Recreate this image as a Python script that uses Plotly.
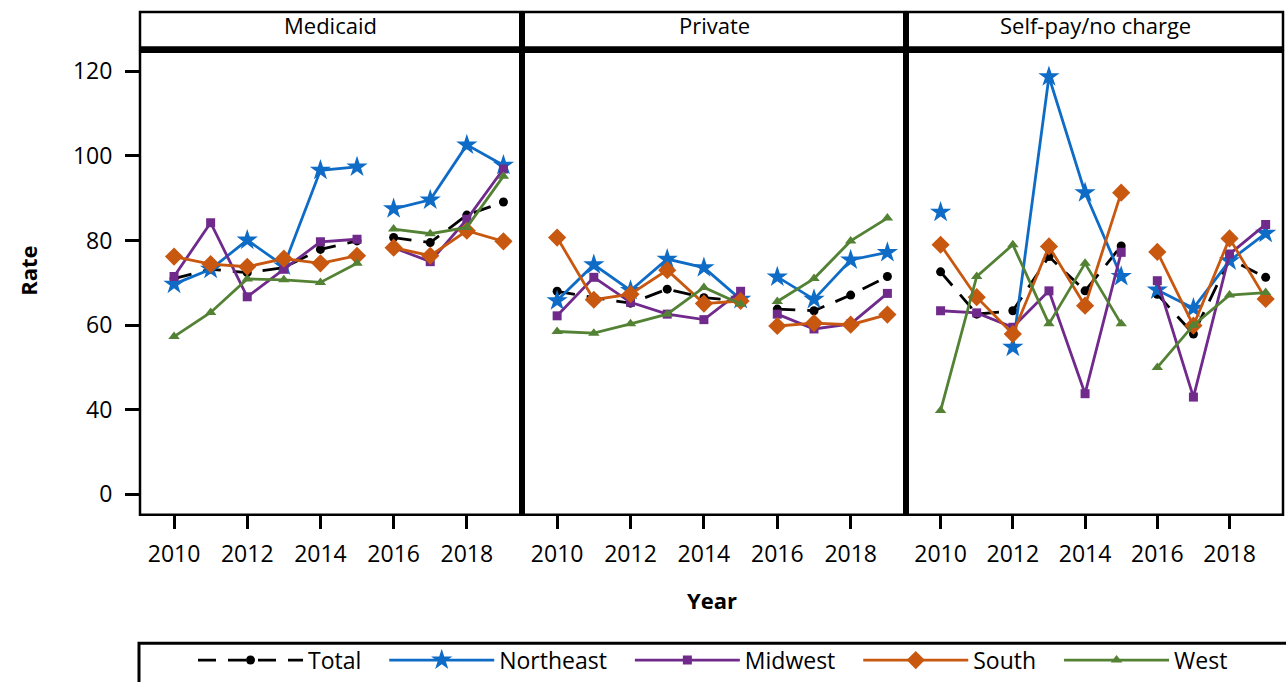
import plotly.graph_objects as go

W, H = 1286, 682

years = [2010, 2011, 2012, 2013, 2014, 2015, 2016, 2017, 2018, 2019]
payers = ["Medicaid", "Private", "Self-pay/no charge"]
regions = ["Total", "Northeast", "Midwest", "South", "West"]

# rates by payer and region
medicaid_total = [71.0, 73.2, 72.4, 73.6, 77.9, 79.9, 80.7, 79.5, 86.0, 89.1]
medicaid_northeast = [69.7, 73.2, 80.1, 74.0, 96.6, 97.4, 87.5, 89.6, 102.6, 97.8]
medicaid_midwest = [71.5, 84.2, 66.7, 73.2, 79.7, 80.3, 78.3, 75.0, 85.0, 96.9]
medicaid_south = [76.2, 74.4, 73.8, 75.7, 74.6, 76.4, 78.3, 76.4, 82.3, 79.8]
medicaid_west = [57.3, 63.0, 70.9, 70.7, 70.1, 74.6, 82.7, 81.6, 83.1, 95.2]

private_total = [68.0, 66.5, 65.2, 68.5, 66.5, 65.7, 63.8, 63.4, 67.1, 71.5]
private_northeast = [65.8, 74.3, 68.2, 75.6, 73.6, 66.1, 71.4, 66.1, 75.4, 77.2]
private_midwest = [62.2, 71.3, 65.4, 62.6, 61.3, 68.0, 62.6, 59.1, 60.3, 67.5]
private_south = [80.7, 66.0, 67.3, 73.0, 65.1, 65.7, 59.8, 60.5, 60.1, 62.5]
private_west = [58.5, 58.1, 60.3, 62.6, 68.9, 65.0, 65.6, 71.0, 79.9, 85.3]

selfpay_total = [72.6, 62.6, 63.4, 76.2, 68.1, 78.7, 67.3, 57.9, 75.6, 71.3]
selfpay_northeast = [86.7, None, 54.8, 118.7, 91.3, 71.5, 68.3, 64.0, 75.2, 81.7]
selfpay_midwest = [63.4, 62.9, 59.5, 68.1, 43.8, 77.2, 70.5, 43.0, 76.8, 83.8]
selfpay_south = [79.0, 66.6, 57.9, 78.6, 64.6, 91.3, 77.3, 59.9, 80.5, 66.2]
selfpay_west = [39.8, 71.5, 79.0, 60.3, 74.6, 60.3, 50.0, 60.0, 67.1, 67.7]

data = {
    "Medicaid": [medicaid_total, medicaid_northeast, medicaid_midwest, medicaid_south, medicaid_west],
    "Private": [private_total, private_northeast, private_midwest, private_south, private_west],
    "Self-pay/no charge": [selfpay_total, selfpay_northeast, selfpay_midwest, selfpay_south, selfpay_west],
}

# y axis has a break: label "0" sits one step below 40
ytick_vals = [20, 40, 60, 80, 100, 120]
ytick_text = ["0", "40", "60", "80", "100", "120"]

styles = {
    "Total": dict(color="black", symbol="circle", size=9, dash="18px,12px"),
    "Northeast": dict(color="#0F6CC6", symbol="star", size=16, dash="solid"),
    "Midwest": dict(color="#702A8C", symbol="square", size=9, dash="solid"),
    "South": dict(color="#C8570F", symbol="diamond", size=14, dash="solid"),
    "West": dict(color="#548235", symbol="triangle-up", size=10, dash="solid"),
}

FONT = "Open Sans, Noto Sans, sans-serif"

panel_px = [(140, 521), (523, 905), (907, 1283)]
top_px, bot_px = 52, 517


def px_x(p):
    return p / W


def px_y(p):
    return 1 - p / H


fig = go.Figure()

for i, payer in enumerate(payers):
    ax = "" if i == 0 else str(i + 1)
    for region, vals in zip(regions, data[payer]):
        st = styles[region]
        # break the line between 2015 and 2016
        xs = years[:6] + [2015.5] + years[6:]
        ys = vals[:6] + [None] + vals[6:]
        fig.add_trace(go.Scatter(
            x=xs, y=ys,
            mode="lines+markers",
            name=region + "\u00a0" * 3,
            legendgroup=region,
            showlegend=(i == 0),
            line=dict(color=st["color"], width=2.8, dash=st["dash"]),
            marker=dict(symbol=st["symbol"], size=st["size"], color=st["color"]),
            xaxis="x" + ax, yaxis="y" + ax,
        ))

    x0, x1 = panel_px[i]
    fig.update_layout(**{
        "xaxis" + ax: dict(
            domain=[px_x(x0), px_x(x1)],
            range=[2009.07, 2019.48],
            tickvals=[2010, 2012, 2014, 2016, 2018],
            ticks="outside", ticklen=13, tickwidth=3, tickcolor="black",
            ticklabelstandoff=6,
            showline=False, showgrid=False, zeroline=False,
            tickfont=dict(size=23, color="black", family=FONT),
            anchor="y" + ax,
        ),
        "yaxis" + ax: dict(
            domain=[px_y(bot_px), px_y(top_px)],
            range=[15.2, 124.6],
            tickvals=ytick_vals, ticktext=ytick_text,
            ticks="outside" if i == 0 else "", ticklen=14, tickwidth=3,
            tickcolor="black",
            ticklabelstandoff=8,
            showticklabels=(i == 0),
            showline=False, showgrid=False, zeroline=False,
            tickfont=dict(size=23, color="black", family=FONT),
            anchor="x" + ax,
        ),
    })

shapes = []
# panel frames
for x0, x1 in panel_px:
    shapes.append(dict(type="rect", xref="paper", yref="paper",
                       x0=px_x(x0), x1=px_x(x1), y0=px_y(bot_px), y1=px_y(top_px),
                       line=dict(color="black", width=2.5)))
    # strip boxes
    shapes.append(dict(type="rect", xref="paper", yref="paper",
                       x0=px_x(x0), x1=px_x(x1), y0=px_y(50), y1=px_y(12),
                       line=dict(color="black", width=2.5)))
# thick separators
for xp in (522, 906):
    shapes.append(dict(type="line", xref="paper", yref="paper",
                       x0=px_x(xp), x1=px_x(xp), y0=px_y(bot_px), y1=px_y(12),
                       line=dict(color="black", width=6)))
shapes.append(dict(type="line", xref="paper", yref="paper",
                   x0=px_x(140), x1=px_x(1284), y0=px_y(49), y1=px_y(49),
                   line=dict(color="black", width=5)))
# legend box
shapes.append(dict(type="rect", xref="paper", yref="paper",
                   x0=px_x(139), x1=px_x(1292), y0=px_y(700), y1=px_y(646),
                   line=dict(color="black", width=3)))

annotations = []
for (x0, x1), payer in zip(panel_px, payers):
    annotations.append(dict(text=payer, xref="paper", yref="paper",
                            x=px_x((x0 + x1) / 2), y=px_y(25),
                            xanchor="center", yanchor="middle",
                            showarrow=False, font=dict(size=22, color="black", family=FONT)))
annotations.append(dict(text="<b>Rate</b>", xref="paper", yref="paper",
                        x=px_x(28), y=px_y(272), textangle=-90, showarrow=False,
                        xanchor="center", yanchor="middle",
                        font=dict(size=22, color="black", family=FONT)))
annotations.append(dict(text="<b>Year</b>", xref="paper", yref="paper",
                        x=px_x(712), y=px_y(603), showarrow=False,
                        xanchor="center", yanchor="middle",
                        font=dict(size=22, color="black", family=FONT)))

fig.update_layout(
    width=W, height=H,
    margin=dict(l=0, r=0, t=0, b=0),
    paper_bgcolor="white", plot_bgcolor="white",
    shapes=shapes, annotations=annotations,
    showlegend=True,
    legend=dict(orientation="h", x=px_x(722), xanchor="center",
                y=px_y(663), yanchor="middle",
                itemwidth=105, bgcolor="rgba(0,0,0,0)",
                font=dict(size=23, color="black", family=FONT),
                traceorder="normal"),
)

# page body has a default margin; drop it so the figure sits at 0,0
fig.write_html("out.html", config={"displayModeBar": False},
               post_script="document.body.style.margin='0';")
